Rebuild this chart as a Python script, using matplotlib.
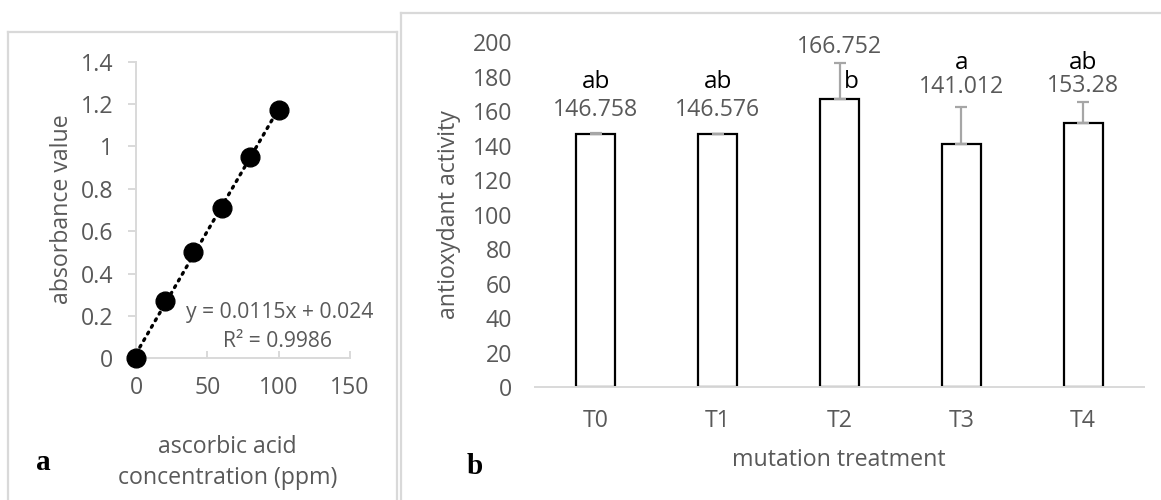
import numpy as np
import matplotlib
matplotlib.use("Agg")
import matplotlib.pyplot as plt
from matplotlib.lines import Line2D

plt.rcParams['font.family'] = ['Open Sans', 'DejaVu Sans']

# ---- data: panel a (standard curve) ----
conc_ppm = [0, 20, 40, 60, 80, 100]
absorbance = [0.0, 0.27, 0.50, 0.71, 0.95, 1.17]
equation_text = "y = 0.0115x + 0.024"
r2_text = "R² = 0.9986"
a_xticks = [0, 50, 100, 150]
a_yticks = [0, 0.2, 0.4, 0.6, 0.8, 1, 1.2, 1.4]
a_ytick_labels = ["0", "0.2", "0.4", "0.6", "0.8", "1", "1.2", "1.4"]

# ---- data: panel b (antioxidant activity) ----
treatments = ["T0", "T1", "T2", "T3", "T4"]
activity = [146.758, 146.576, 166.752, 141.012, 153.28]
activity_err = [0.3, 0.3, 21.2, 21.5, 12.1]
value_labels = ["146.758", "146.576", "166.752", "141.012", "153.28"]
letters = ["ab", "ab", "b", "a", "ab"]
b_yticks = [0, 20, 40, 60, 80, 100, 120, 140, 160, 180, 200]

# label placement (layout)
value_label_y = [160.6, 160.6, 197.0, 174.0, 174.5]
letter_y = [176.8, 176.8, 176.8, 187.8, 187.8]
letter_dx = [0, 0, 0.094, 0, 0]

W, H = 1161, 500
fig = plt.figure(figsize=(W / 100, H / 100), dpi=100)

TXT = '#595959'
AXC = '#d9d9d9'
FS = 16.7

def fx(px):
    return px / W

def fy(py):
    return 1 - py / H

# ---------- panel a ----------
axa = fig.add_axes([fx(136), fy(358.3), (350 - 136) / W, (358.3 - 61.7) / H])
axa.set_xlim(0, 150)
axa.set_ylim(0, 1.4)
for s in ['top', 'right']:
    axa.spines[s].set_visible(False)
for s in ['left', 'bottom']:
    axa.spines[s].set_color(AXC)
    axa.spines[s].set_linewidth(1.4)
axa.set_xticks(a_xticks)
axa.set_yticks(a_yticks)
axa.set_yticklabels(a_ytick_labels)
axa.tick_params(axis='y', direction='out', length=5.8, width=1.4, color=AXC,
                labelcolor=TXT, labelsize=FS, pad=10.5)
axa.tick_params(axis='x', direction='in', length=5.2, width=1.4, color=AXC,
                labelcolor=TXT, labelsize=FS, pad=13)

coef = np.polyfit(conc_ppm, absorbance, 1)
xfit = np.array([min(conc_ppm), max(conc_ppm)])
axa.plot(xfit, np.polyval(coef, xfit), color='black', lw=2.4,
         linestyle=(0, (0.6, 1.7)), dash_capstyle='round', zorder=2)
axa.plot(conc_ppm, absorbance, 'o', color='black', markersize=13.5, zorder=3,
         clip_on=False)
axa.text(100.5, 0.214, equation_text, ha='center', va='center', color=TXT, fontsize=15.2)
axa.text(99.5, 0.078, r2_text, ha='center', va='center', color=TXT, fontsize=15.2)

fig.text(fx(62), fy(209), "absorbance value", rotation=90, ha='center', va='center',
         color=TXT, fontsize=FS)
fig.text(fx(227.5), fy(447), "ascorbic acid", ha='center', va='center', color=TXT, fontsize=FS)
fig.text(fx(227.5), fy(478), "concentration (ppm)", ha='center', va='center', color=TXT, fontsize=FS)
fig.text(fx(43), fy(462), "a", ha='center', va='center', color='black', fontsize=21,
         fontweight='bold', family='Liberation Serif')

# ---------- panel b ----------
axb = fig.add_axes([fx(535), fy(387), (1144 - 535) / W, (387 - 42) / H])
xpos = np.arange(len(treatments))
axb.set_xlim(-0.5, len(treatments) - 0.5)
axb.set_ylim(0, 200)
for s in ['top', 'right', 'left']:
    axb.spines[s].set_visible(False)
axb.spines['bottom'].set_color(AXC)
axb.spines['bottom'].set_linewidth(1.4)
axb.set_xticks(xpos)
axb.set_xticklabels(treatments)
axb.set_yticks(b_yticks)
axb.tick_params(axis='both', length=0, labelcolor=TXT, labelsize=FS)
axb.tick_params(axis='y', pad=16.5)
axb.tick_params(axis='x', pad=16)

axb.bar(xpos, activity, width=0.32, color='white', edgecolor='black', linewidth=1.6,
        zorder=2)
axb.errorbar(xpos, activity, yerr=[[0] * len(activity), activity_err], fmt='none',
             ecolor='#a6a6a6', elinewidth=1.6, capsize=4, capthick=1.6, zorder=3)

for i in range(len(treatments)):
    axb.text(xpos[i], value_label_y[i], value_labels[i], ha='center', va='center',
             color=TXT, fontsize=FS, clip_on=False)
    axb.text(xpos[i] + letter_dx[i], letter_y[i], letters[i], ha='center', va='center',
             color='black', fontsize=17.5, clip_on=False)

fig.text(fx(449), fy(215), "antioxydant activity", rotation=90, ha='center', va='center',
         color=TXT, fontsize=FS)
fig.text(fx(839), fy(460), "mutation treatment", ha='center', va='center', color=TXT, fontsize=FS)
fig.text(fx(475), fy(466), "b", ha='center', va='center', color='black', fontsize=21,
         fontweight='bold', family='Liberation Serif')

# ---------- panel frames ----------
def fline(x0, y0, x1, y1):
    fig.add_artist(Line2D([fx(x0), fx(x1)], [fy(y0), fy(y1)], color=AXC, lw=1.6,
                          transform=fig.transFigure))

fline(8, 32, 397, 32)
fline(8, 32, 8, 500)
fline(397, 32, 397, 500)
fline(401, 13, 1161, 13)
fline(401, 13, 401, 500)

fig.savefig("out.png", dpi=100)
